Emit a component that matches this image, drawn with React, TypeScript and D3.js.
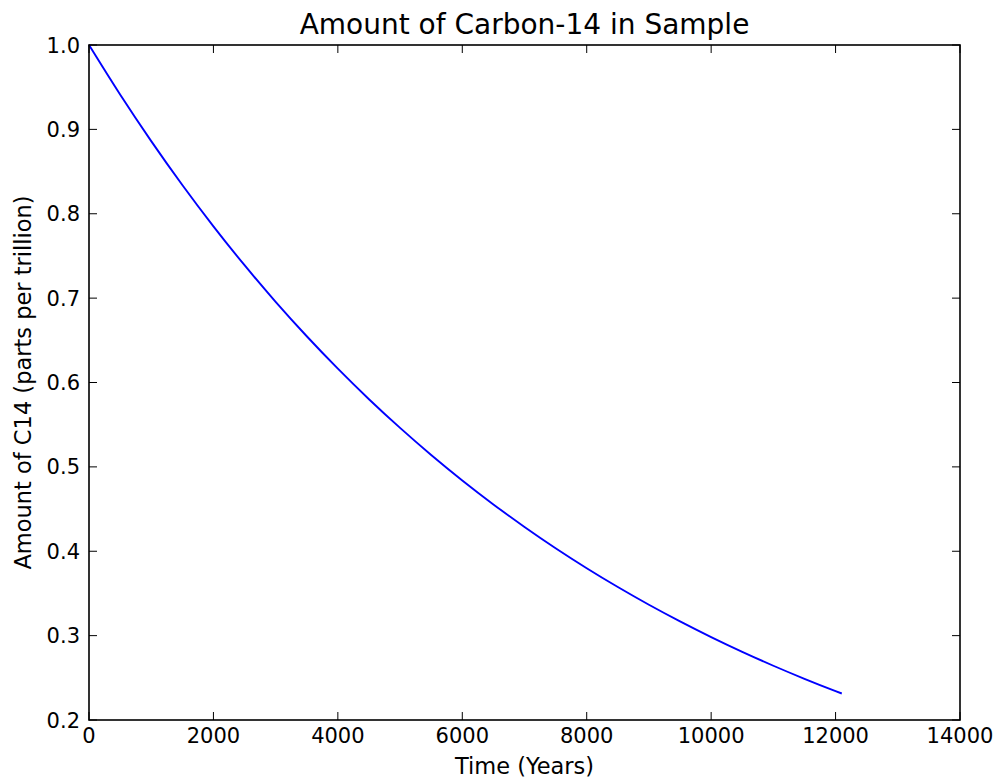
import React from "react";
import * as d3 from "d3";

const years = [0, 500, 1000, 1500, 2000, 2500, 3000, 3500, 4000, 4500, 5000, 5500, 6000, 6500, 7000, 7500, 8000, 8500, 9000, 9500, 10000, 10500, 11000, 11500, 12000, 12100];
const amounts = [1.0, 0.9413, 0.8861, 0.8341, 0.7851, 0.7390, 0.6956, 0.6548, 0.6164, 0.5802, 0.5462, 0.5141, 0.4839, 0.4555, 0.4288, 0.4036, 0.3799, 0.3576, 0.3366, 0.3169, 0.2983, 0.2808, 0.2643, 0.2488, 0.2342, 0.2314];
const xTicks = [0, 2000, 4000, 6000, 8000, 10000, 12000, 14000];
const yTicks = [0.2, 0.3, 0.4, 0.5, 0.6, 0.7, 0.8, 0.9, 1.0];
const title = "Amount of Carbon-14 in Sample";
const xLabel = "Time (Years)";
const yLabel = "Amount of C14 (parts per trillion)";

export default function App() {
  const W = 998, H = 779;
  const L = 89, R = 960, T = 45, B = 720;
  const x = d3.scaleLinear().domain([0, 14000]).range([L, R]);
  const y = d3.scaleLinear().domain([0.2, 1.0]).range([B, T]);
  const pts = years.map((t, i) => [t, amounts[i]] as [number, number]);
  const line = d3.line<[number, number]>().x(d => x(d[0])).y(d => y(d[1])).curve(d3.curveMonotoneX);
  const font = "DejaVu Sans";
  const tl = 8;
  return (
    <svg width={W} height={H} style={{ position: "absolute", left: 0, top: 0, background: "#fff" }} fontFamily={font}>
      <rect x={0} y={0} width={W} height={H} fill="#fff" />
      <path d={line(pts) || ""} fill="none" stroke="#0000ff" strokeWidth={1.9} />
      {xTicks.map(t => (
        <g key={"x" + t}>
          <line x1={x(t)} x2={x(t)} y1={B} y2={B - tl} stroke="#000" strokeWidth={1} />
          <line x1={x(t)} x2={x(t)} y1={T} y2={T + tl} stroke="#000" strokeWidth={1} />
          <text x={x(t)} y={743} textAnchor="middle" fontSize={21} fill="#000">{t}</text>
        </g>
      ))}
      {yTicks.map(v => (
        <g key={"y" + v}>
          <line x1={L} x2={L + tl} y1={y(v)} y2={y(v)} stroke="#000" strokeWidth={1} />
          <line x1={R} x2={R - tl} y1={y(v)} y2={y(v)} stroke="#000" strokeWidth={1} />
          <text x={80} y={y(v)} dy="0.36em" textAnchor="end" fontSize={21} fill="#000">{v.toFixed(1)}</text>
        </g>
      ))}
      <rect x={L} y={T} width={R - L} height={B - T} fill="none" stroke="#000" strokeWidth={1.6} />
      <text x={(L + R) / 2} y={34} textAnchor="middle" fontSize={28} fill="#000">{title}</text>
      <text x={(L + R) / 2} y={774} textAnchor="middle" fontSize={22.5} fill="#000">{xLabel}</text>
      <text transform={`translate(31,${(T + B) / 2}) rotate(-90)`} textAnchor="middle" fontSize={22.5} fill="#000">{yLabel}</text>
    </svg>
  );
}
